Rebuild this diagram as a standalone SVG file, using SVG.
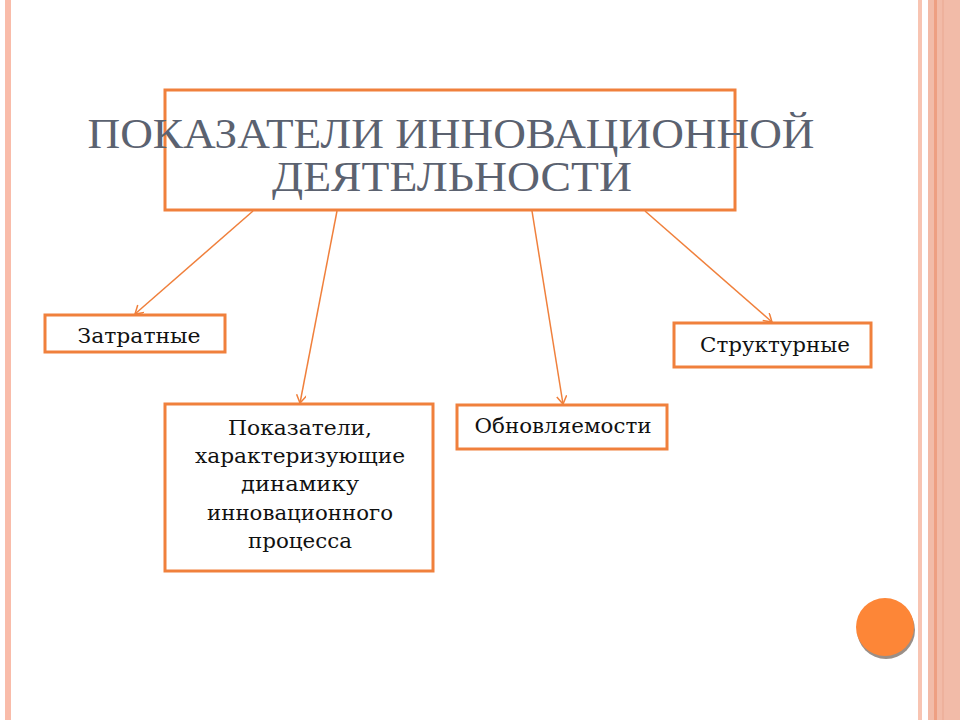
<svg xmlns="http://www.w3.org/2000/svg" width="960" height="720" viewBox="0 0 960 720">
<defs>
<style>
.box{fill:#fff;stroke:#f0803c;stroke-width:3}
.t{font-family:"DejaVu Serif","Liberation Serif",serif;font-size:20px;fill:#111;text-anchor:middle}
.title{font-family:"Liberation Serif","DejaVu Serif",serif;font-size:43px;fill:#5b6270;text-anchor:middle}
.c{stroke:#f0803c;stroke-width:1.5;fill:none}
</style>
<marker id="ah" markerWidth="12" markerHeight="12" refX="10" refY="5" orient="auto" markerUnits="userSpaceOnUse">
<path d="M2,0 L10,5 L2,10" fill="none" stroke="#f0803c" stroke-width="1.5"/>
</marker>
</defs>
<rect width="960" height="720" fill="#fff"/>
<rect x="5" y="0" width="6" height="720" fill="#f9bcaa"/>
<rect x="918" y="0" width="4" height="720" fill="#f8c4b2"/>
<rect x="928" y="0" width="32" height="720" fill="#f2bba8"/>
<rect x="934" y="0" width="3" height="720" fill="#ee9f82"/>
<rect x="942" y="0" width="2" height="720" fill="#eeb19c"/>

<g id="title-node">
<rect class="box" x="165" y="90" width="570" height="120"/>
<text class="title" x="451" y="148" textLength="727" lengthAdjust="spacingAndGlyphs">ПОКАЗАТЕЛИ ИННОВАЦИОННОЙ</text>
<text class="title" x="452" y="191" textLength="360" lengthAdjust="spacingAndGlyphs">ДЕЯТЕЛЬНОСТИ</text>
</g>

<g id="connectors">
<line class="c" x1="253" y1="211" x2="135" y2="314" marker-end="url(#ah)"/>
<line class="c" x1="337" y1="211" x2="300" y2="403" marker-end="url(#ah)"/>
<line class="c" x1="532" y1="211" x2="563" y2="404" marker-end="url(#ah)"/>
<line class="c" x1="645" y1="211" x2="772" y2="322" marker-end="url(#ah)"/>
</g>

<g id="node-zatratnye">
<rect class="box" x="45" y="315" width="180" height="37"/>
<text class="t" x="139" y="343" textLength="123" lengthAdjust="spacingAndGlyphs">Затратные</text>
</g>

<g id="node-strukturnye">
<rect class="box" x="674" y="323" width="197" height="44"/>
<text class="t" x="775" y="352" textLength="150" lengthAdjust="spacingAndGlyphs">Структурные</text>
</g>

<g id="node-obnovlyaemosti">
<rect class="box" x="457" y="405" width="210" height="44"/>
<text class="t" x="563" y="433" textLength="177" lengthAdjust="spacingAndGlyphs">Обновляемости</text>
</g>

<g id="node-dinamika">
<rect class="box" x="165" y="404" width="268" height="167"/>
<text class="t" x="300" y="435" textLength="144" lengthAdjust="spacingAndGlyphs">Показатели,</text>
<text class="t" x="300" y="463" textLength="210" lengthAdjust="spacingAndGlyphs">характеризующие</text>
<text class="t" x="300" y="491" textLength="118" lengthAdjust="spacingAndGlyphs">динамику</text>
<text class="t" x="300" y="520" textLength="186" lengthAdjust="spacingAndGlyphs">инновационного</text>
<text class="t" x="300" y="548" textLength="104" lengthAdjust="spacingAndGlyphs">процесса</text>
</g>

<g id="decor-circle">
<circle cx="886" cy="630" r="29" fill="#9a8f88"/>
<circle cx="885" cy="627" r="29" fill="#fd8637"/>
</g>
</svg>
